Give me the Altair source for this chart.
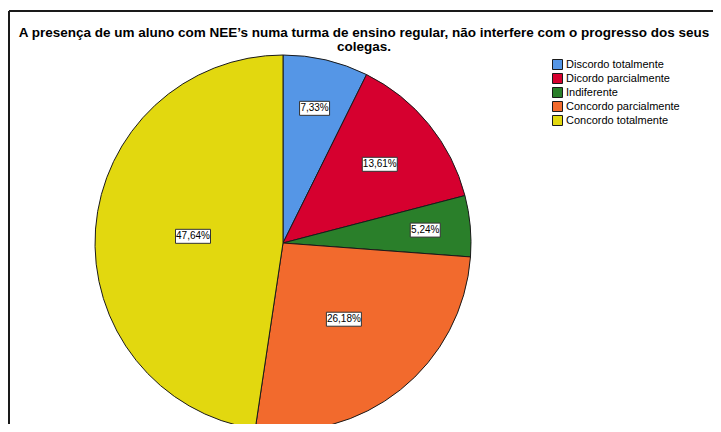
import altair as alt
import pandas as pd

categories = ["Discordo totalmente", "Dicordo parcialmente", "Indiferente",
              "Concordo parcialmente", "Concordo totalmente"]
percentages = [7.33, 13.61, 5.24, 26.18, 47.64]
colors = ["#5596E6", "#D6002F", "#2A7F2A", "#F26A2D", "#E2D80F"]
title_text = ("A presença de um aluno com NEE’s numa turma de ensino regular, não interfere com o progresso dos seus\n"
              "colegas.")

df = pd.DataFrame({"cat": categories, "pct": percentages, "ord": list(range(len(categories)))})

W, H = 705, 416
CX, CY, R = 275, 235, 188

base = alt.Chart(df)

pie = base.mark_arc(radius=R, stroke="#1a1a1a", strokeWidth=1).encode(
    theta=alt.Theta("pct:Q", stack=True),
    order=alt.Order("ord:Q"),
    color=alt.Color("cat:N", scale=alt.Scale(domain=categories, range=colors),
                    sort=categories,
                    legend=alt.Legend(title=None, orient="none", legendX=544, legendY=51,
                                      symbolType="square", symbolSize=100,
                                      symbolStrokeColor="#1a1a1a", symbolStrokeWidth=1,
                                      symbolOpacity=1,
                                      labelFont="Liberation Sans", labelFontSize=11,
                                      labelColor="#000000", labelOffset=3,
                                      rowPadding=-1, padding=0)),
    x=alt.value(CX), y=alt.value(CY),
)

lab = base.transform_joinaggregate(total="sum(pct)").transform_window(
    cum="sum(pct)", sort=[alt.SortField("ord")]
).transform_calculate(
    mid="(datum.cum - datum.pct/2)/datum.total*2*PI",
    f="max(0.48, 0.82 - 0.0115*datum.pct)",
    lbl="replace(format(datum.pct, '.2f'), '.', ',') + '%'",
).transform_calculate(
    lx=f"{CX} + {R}*datum.f*sin(datum.mid)",
    ly=f"{CY} - {R}*datum.f*cos(datum.mid)",
    hw="(5 + 5*length(datum.lbl))/2",
).transform_calculate(
    x1="datum.lx - datum.hw", x2="datum.lx + datum.hw",
    y1="datum.ly - 7", y2="datum.ly + 7",
)

boxes = lab.mark_rect(fill="white", stroke="#333333", strokeWidth=1).encode(
    x=alt.X("x1:Q", scale=None), x2="x2:Q",
    y=alt.Y("y1:Q", scale=None), y2="y2:Q",
)
texts = lab.mark_text(font="Liberation Sans", fontSize=10, color="black",
                      align="center", baseline="middle").encode(
    x=alt.X("lx:Q", scale=None), y=alt.Y("ly:Q", scale=None), text="lbl:N",
)

title = alt.Chart(pd.DataFrame({"t": [title_text]})).mark_text(
    font="Liberation Sans", fontSize=13.5, fontWeight="bold", color="black",
    align="center", baseline="top", lineBreak="\n", lineHeight=14,
).encode(x=alt.value(356), y=alt.value(18), text="t:N")

frame_top = alt.Chart(pd.DataFrame({"a": [0]})).mark_rule(color="#1a1a1a", strokeWidth=2).encode(
    x=alt.value(1), x2=alt.value(W), y=alt.value(3))
frame_left = alt.Chart(pd.DataFrame({"a": [0]})).mark_rule(color="#1a1a1a", strokeWidth=2).encode(
    x=alt.value(1), y=alt.value(3), y2=alt.value(H + 20))

chart = alt.layer(frame_top, frame_left, title, pie, boxes, texts).properties(
    width=W, height=H, padding=0, autosize=alt.AutoSizeParams(type="none"),
).configure_view(stroke=None)

chart.save("out.html", embed_options={"renderer": "svg", "actions": False})
